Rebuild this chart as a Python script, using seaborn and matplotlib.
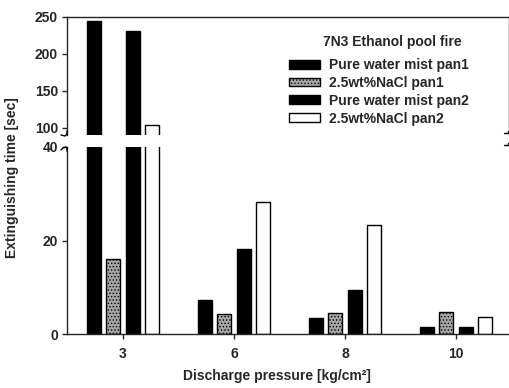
import numpy as np
import pandas as pd
import matplotlib
matplotlib.use('Agg')
import matplotlib.pyplot as plt
import seaborn as sns
from matplotlib.patches import Patch

# ---- data ----
pressures = ['3', '6', '8', '10']
series_names = ['Pure water mist pan1', '2.5wt%NaCl pan1',
                'Pure water mist pan2', '2.5wt%NaCl pan2']
pure_pan1 = [245.0, 7.3, 3.4, 1.4]
nacl_pan1 = [16.0, 4.3, 4.4, 4.6]
pure_pan2 = [231.5, 18.2, 9.4, 1.6]
nacl_pan2 = [103.0, 28.2, 23.3, 3.6]
upper_ticks = [100, 150, 200, 250]
lower_ticks = [0, 20, 40]
legend_title = '7N3 Ethanol pool fire'
y_label = 'Extinguishing time [sec]'
x_label = 'Discharge pressure [kg/cm²]'

series_values = [pure_pan1, nacl_pan1, pure_pan2, nacl_pan2]
df = pd.DataFrame({
    'pressure': pressures * 4,
    'series': [s for s in series_names for _ in pressures],
    'time': [v for vals in series_values for v in vals],
})

sns.set_style('ticks')
plt.rcParams['font.family'] = ['Liberation Sans', 'DejaVu Sans']
plt.rcParams['font.weight'] = 'bold'
plt.rcParams['hatch.color'] = '#3a3a3a'
plt.rcParams['hatch.linewidth'] = 0.6

colors = {series_names[0]: 'black', series_names[1]: '#a6a6a6',
          series_names[2]: 'black', series_names[3]: 'white'}

W, H = 510, 388
fig = plt.figure(figsize=(W / 100, H / 100), dpi=100)

def fx(px):
    return px / W

def fy(py):
    return 1 - py / H

left, right = 67, 509
ax_up = fig.add_axes([fx(left), fy(135), fx(right - left), fy(17) - fy(135)])
ax_lo = fig.add_axes([fx(left), fy(334), fx(right - left), fy(147) - fy(334)])

for ax in (ax_up, ax_lo):
    sns.barplot(data=df, x='pressure', y='time', hue='series',
                hue_order=series_names, order=pressures, palette=colors,
                edgecolor='black', linewidth=1.0, width=0.7, gap=0.28,
                legend=False, ax=ax)
    for bar in ax.containers[1]:
        bar.set_hatch('.....')
    ax.set_xlim(-0.505, 3.477)
    ax.set_xlabel('')
    ax.set_ylabel('')
    ax.tick_params(axis='both', labelsize=10, length=3.5, width=1.0,
                   direction='out', pad=3)
    for sp in ax.spines.values():
        sp.set_linewidth(1.0)

ax_up.set_ylim(90, 250)
ax_up.set_yticks(upper_ticks)
ax_up.set_xticks([])
ax_up.spines['bottom'].set_visible(False)
ax_up.spines['top'].set_visible(True)
ax_up.spines['right'].set_visible(True)

ax_lo.set_ylim(0, 40)
ax_lo.set_yticks(lower_ticks)
ax_lo.spines['top'].set_visible(False)
ax_lo.spines['right'].set_visible(False)
ax_lo.tick_params(axis='x', pad=6)

for lab in ax_up.get_yticklabels() + ax_lo.get_yticklabels() + ax_lo.get_xticklabels():
    lab.set_fontweight('bold')

# break marks (figure pixel coords)
def mark(xs, ys):
    fig.add_artist(plt.Line2D([fx(x) for x in xs], [fy(y) for y in ys],
                              transform=fig.transFigure, color='black', lw=1.0))

mark([67, 67, 65, 61], [131, 134, 136, 135])
mark([61, 63, 66, 67, 67], [150, 148, 147, 148, 151])
mark([504, 508, 508], [133, 133, 131])
mark([504, 508, 508], [145, 145, 143])

# labels
fig.text(fx(12), fy(178), y_label, rotation=90, ha='center', va='center',
         fontsize=10, fontweight='bold')
fig.text(fx(277), fy(376), x_label, ha='center', va='center',
         fontsize=10, fontweight='bold')

# legend
fig.text(fx(392), fy(42), legend_title, ha='center', va='center',
         fontsize=10, fontweight='bold')
handles = []
for s in series_names:
    p = Patch(facecolor=colors[s], edgecolor='black', linewidth=1.0)
    if s == series_names[1]:
        p.set_hatch('.....')
    handles.append(p)
leg = ax_up.legend(handles, series_names,
                   loc='upper left', bbox_to_anchor=(fx(289), fy(58)),
                   bbox_transform=fig.transFigure, frameon=False,
                   prop={'size': 10, 'weight': 'bold'},
                   handlelength=2.2, handleheight=0.6, handletextpad=0.65,
                   labelspacing=0.28, borderpad=0, borderaxespad=0)

fig.savefig('out.png', dpi=100)
